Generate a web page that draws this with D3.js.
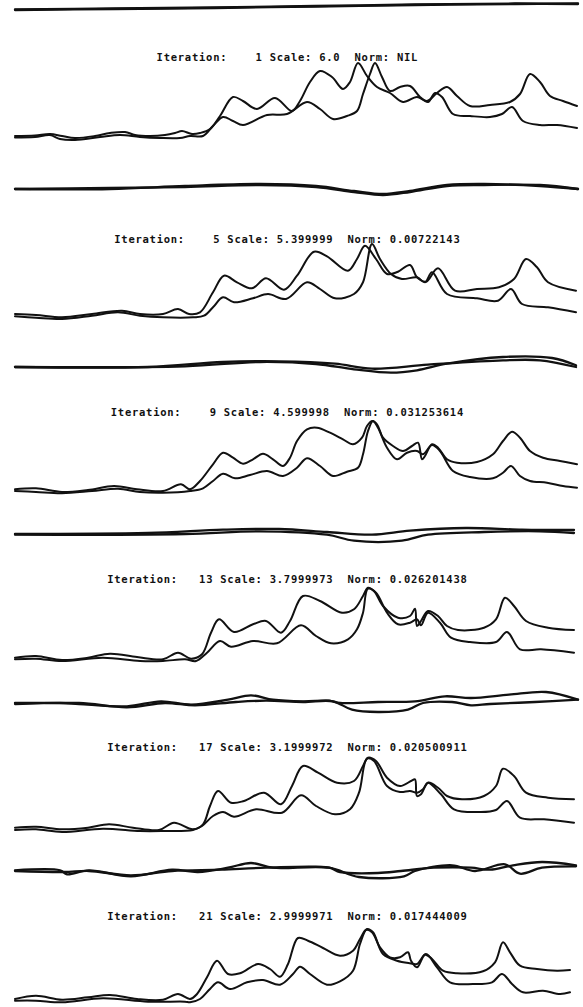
<!DOCTYPE html>
<html>
<head>
<meta charset="utf-8">
<script src="https://cdn.jsdelivr.net/npm/d3@7"></script>
<style>
  html, body { margin: 0; padding: 0; background: #fff; }
  svg { display: block; }
  .title { font-family: "DejaVu Sans Mono", monospace; font-weight: bold; font-size: 10.5px; white-space: pre; fill: #111; }
  .curve { fill: none; stroke: #111; stroke-width: 2; stroke-linejoin: round; stroke-linecap: round; }
  .resid { fill: none; stroke: #111; stroke-width: 2.3; stroke-linejoin: round; stroke-linecap: round; }
</style>
</head>
<body>
<div id="chart"></div>
<script>
// ---- data: [channel, intensity] ----
const iterations = [1, 5, 9, 13, 17, 21];
const scales = ["6.0", "5.399999", "4.599998", "3.7999973", "3.1999972", "2.9999971"];
const norms = ["NIL", "0.00722143", "0.031253614", "0.026201438", "0.020500911", "0.017444009"];

const curveA1 = [[0,3],[20,3.5],[35,5],[47,3],[60,1],[80,3],[95,6],[110,7],[120,4],[135,3],[150,4],[160,6],[167,8],[177,5],[185,6],[195,10],[205,23],[218,42],[228,38],[242,30],[260,41],[277,28],[285,38],[295,57],[305,68],[317,62],[328,50],[335,57],[343,76],[352,63],[362,52],[375,46],[388,37],[402,42],[412,38],[422,46],[432,52],[442,43],[455,33],[475,34],[495,37],[505,45],[515,65],[525,57],[535,43],[548,38],[562,33]];
const curveB1 = [[0,1.5],[20,2],[35,4],[45,0],[60,-1],[85,2],[105,4],[125,2],[145,1],[165,1],[175,3],[188,3],[198,13],[208,22],[218,18],[228,14],[252,24],[272,25],[292,37],[305,30],[318,20],[332,23],[342,28],[348,45],[355,65],[360,76],[367,62],[375,48],[385,52],[395,53],[405,42],[413,37],[420,46],[427,42],[438,25],[455,23],[475,22],[487,25],[497,32],[508,18],[525,14],[542,14],[562,11]];

const curveA2 = [[0,5],[21,4],[47,1.7],[77,5],[107,8.3],[125,5],[148,5],[163,10],[174,5],[185,6.7],[198,26.7],[209,43.3],[222,36.7],[237,30.7],[251,40.7],[269,29.3],[282,43.3],[299,67.3],[312,62.7],[333,48.3],[342,60],[350,73.3],[361,60],[372,45],[383,47.3],[395,54],[402,41.7],[411,37.3],[423,50.7],[440,28.3],[462,30],[484,31.7],[499,40],[511,60],[522,51.7],[533,36.7],[561,28.3]];
const curveB2 = [[0,2.7],[21,1.3],[47,0],[77,3.3],[103,6.7],[125,3.3],[148,1.7],[178,1.7],[189,3.3],[198,11.7],[208,21.7],[219,16.7],[238,20.7],[253,25],[271,20],[292,36.7],[305,30],[320,20.7],[339,25],[348,36.7],[357,75],[365,60],[376,45],[387,40],[402,41.7],[410,36.7],[417,46.7],[432,25],[462,20.7],[483,18.3],[496,30],[507,15],[533,11.7],[561,6.7]];

const curveA3 = [[0,4.7],[21,5.7],[47,2],[73,4],[99,8],[122,4.7],[148,3],[166,9.7],[175,4.7],[185,13],[198,29.7],[208,41.3],[218,36.3],[228,30.3],[238,34.7],[248,40.3],[258,34.7],[268,28],[275,36.3],[282,53],[292,64.7],[302,66.3],[315,61.3],[328,54.7],[338,49.7],[347,56.3],[352,68],[357,73],[362,69.7],[368,56.3],[378,48],[388,43],[397,48],[403,51.3],[407,34.7],[410,38],[417,49.7],[423,46.3],[432,34.7],[442,31.3],[462,32],[478,39.7],[488,53],[497,62.3],[505,56.3],[515,43],[528,36.3],[545,33],[562,29.7]];
const curveB3 = [[0,3],[21,2],[47,0.7],[77,3],[103,5.3],[125,2],[148,1.3],[175,3],[188,5.7],[198,13],[208,20.3],[220,15.7],[235,19],[252,23],[268,18],[282,26.3],[292,35.7],[305,28],[318,18],[332,22.3],[343,26.3],[348,39.7],[353,63],[358,73],[363,66.3],[372,46.3],[382,34.7],[392,41.3],[402,43],[408,39.7],[417,49],[425,43],[438,23],[455,17],[478,15.7],[488,21.3],[496,28],[505,18],[515,13],[532,11.3],[548,8],[562,6.3]];

const curveA4 = [[0,2.3],[21,4],[47,0],[73,2.3],[95,6.3],[122,3],[148,0.7],[163,7.3],[176,1.3],[187,5.7],[196,27.3],[204,40.7],[219,28],[238,35.7],[251,39],[266,27.3],[275,39],[288,64],[305,59],[327,47.3],[339,50.7],[348,64],[353,72.3],[359,69],[368,54],[383,42.3],[395,44],[400,51.3],[402,34],[406,39],[413,49],[423,44],[432,34],[443,30],[469,32.3],[481,40.7],[490,62.3],[499,54],[511,39],[533,32.3],[559,30]];
const curveB4 = [[0,0.7],[21,1.3],[47,-1],[88,2.3],[125,-1],[148,-1],[170,0.7],[181,-1],[192,7.3],[205,19],[216,13.3],[238,19],[262,16.7],[286,34.7],[301,24],[316,16.7],[333,20.7],[342,30.7],[348,47.3],[353,71.3],[361,67.3],[372,47.3],[383,35.7],[395,37.3],[402,40.7],[406,34.7],[413,47.3],[425,37.3],[436,22.3],[455,18],[481,18],[492,28],[505,10.7],[526,10.7],[559,7.3]];

const curveA5 = [[0,2.3],[21,3.3],[47,0.7],[73,2.3],[94,5.7],[118,2.3],[144,0],[159,7.3],[178,0.7],[188,5.7],[195,24],[203,39],[216,27.3],[229,29],[249,37.3],[266,25.7],[277,44],[288,64],[303,57.3],[322,47.3],[339,49],[348,64],[353,72.3],[361,69],[372,52.3],[385,44],[396,49],[400,50.7],[402,34],[406,35.7],[413,47.3],[423,42.3],[432,34],[447,30.7],[469,34],[481,44],[488,61.3],[499,54],[511,37.3],[533,32.3],[559,30.7]];
const curveB5 = [[0,0],[21,0.7],[47,-2],[88,1.3],[125,-1],[148,-1],[178,0],[187,4],[198,14],[208,18],[219,13.3],[241,20.7],[267,17.3],[286,34.7],[301,24],[320,15.7],[335,20.7],[344,37.3],[352,71.3],[359,69],[372,44],[385,38],[395,39],[402,37.3],[408,40.7],[413,47.3],[426,35.7],[439,20.7],[465,18],[481,20],[492,29],[505,12.3],[529,10.7],[559,7.3]];

const curveA6 = [[0,2],[21,5.3],[47,1.3],[73,3.7],[95,6],[122,2],[148,1.3],[163,7],[175,2],[182,7],[192,23.7],[202,40.3],[213,27],[225,27.7],[243,37],[255,32],[265,24.3],[273,37],[283,63],[293,60.3],[308,53],[325,45.3],[338,50.3],[345,62],[351,71],[357,68.7],[365,53.7],[375,43.7],[385,43.7],[393,48.7],[396,40.3],[402,33.7],[410,46.3],[417,42],[428,30.3],[442,27.7],[468,29.7],[480,38.7],[488,58.7],[495,48.7],[505,35.3],[522,32],[542,30.3],[555,31]];
const curveB6 = [[0,0.3],[21,0.3],[47,-1.3],[88,2.7],[133,-0.7],[170,-0.7],[175,-1.3],[185,2],[195,12],[203,18.7],[215,12],[232,18.7],[248,21],[265,16.3],[278,27],[285,34.3],[295,27],[312,16.3],[325,19.7],[338,30.3],[345,57],[352,72],[358,68.7],[368,47],[382,40.3],[395,37.7],[402,37],[411,47],[422,33.7],[435,18.7],[458,17],[477,18.7],[487,27],[497,17],[508,8.7],[528,10.3],[545,7],[555,8.7]];

// residual traces under each panel (first one belongs to the previous page)
const resid0a = [[0,-3],[100,-2],[200,-1],[300,0.5],[400,2],[500,3],[563,3.5]];
const resid0b = [[0,-2.5],[100,-1.5],[200,-0.5],[300,1],[400,2.5],[500,3.5],[563,3]];
const resid1a = [[0,0],[95,0],[170,3],[245,5],[301,3],[339,-2],[368,-5],[395,-2],[432,4],[469,5],[525,3],[563,0]];
const resid1b = [[0,0],[95,1],[170,2],[245,4],[301,2],[339,-3],[368,-6],[395,-3],[432,3],[469,4],[525,4],[563,0]];
const resid2a = [[0,0],[133,0],[208,5],[264,5.7],[320,3.3],[357,-1.7],[413,2.3],[488,6.7],[525,6.7],[561,0]];
const resid2b = [[0,0],[170,0.7],[245,5],[301,3],[339,-2.3],[376,-5.7],[402,-3.3],[432,3.3],[488,10],[537,9],[561,1.7]];
const resid3a = [[0,0],[133,1],[208,4.3],[264,5],[312,2],[357,-0.7],[395,3.3],[451,6],[507,4.3],[559,4]];
const resid3b = [[0,-0.7],[170,0],[245,2.7],[312,-0.7],[339,-6.7],[387,-6.7],[413,-0.7],[469,2],[525,2.7],[559,1]];
const resid4a = [[0,0],[45,0],[64,-1],[112,-3.3],[146,1.7],[176,-1.7],[213,3.3],[236,7.7],[258,3.3],[288,1.7],[314,2.3],[325,0],[363,1],[400,1.7],[430,6.7],[456,5],[494,8.3],[531,11],[563,3.3]];
const resid4b = [[0,-1],[64,0],[112,-4.3],[150,0],[180,-2.3],[221,1],[251,2.3],[288,1],[318,1.7],[337,-6.7],[363,-9],[393,-6.7],[408,0],[437,1],[456,-2.3],[475,-1],[520,1],[563,3.3]];
const resid5a = [[0,-0.3],[45,-0.3],[52,-4.3],[74,-0.3],[116,-6.3],[157,0.3],[183,-2],[213,2.3],[236,7],[258,2.3],[314,2.3],[344,-7],[389,-6.3],[400,-1],[437,4.7],[460,-1],[490,5.7],[505,-3.7],[527,2.3],[561,3.7]];
const resid5b = [[0,-1],[49,-2],[74,-1],[116,-5.3],[157,-1],[206,0.3],[251,2.3],[314,2.3],[325,-2],[363,-3],[386,-1],[419,2.3],[456,2.3],[475,0.3],[498,4.7],[527,8],[561,4.7]];

const curvesA = [curveA1, curveA2, curveA3, curveA4, curveA5, curveA6];
const curvesB = [curveB1, curveB2, curveB3, curveB4, curveB5, curveB6];
const residPairs = [[resid0a, resid0b], [resid1a, resid1b], [resid2a, resid2b], [resid3a, resid3b], [resid4a, resid4b], [resid5a, resid5b]];

// ---- layout (pixels) ----
const width = 583, height = 1007;
const titleY = [61, 243, 416, 583, 751, 920];
const baseY = [139, 319, 494, 660, 830, 1001];
const residY = [7, 189, 367, 534, 703, 870];

const svg = d3.select('#chart').append('svg')
    .attr('width', width)
    .attr('height', height);

const x = d3.scaleLinear().domain([0, 563]).range([15, 578]);

// residual strips
residPairs.forEach((pair, i) => {
  let r = d3.scaleLinear().domain([-10, 10]).range([residY[i] + 10, residY[i] - 10]);
  let line = d3.line().x(d => x(d[0])).y(d => r(d[1])).curve(d3.curveCatmullRom.alpha(0.5));
  svg.append('g').selectAll('path')
      .data(pair)
      .join('path')
      .attr('class', 'resid')
      .attr('d', line);
});

// spectra panels
iterations.forEach((it, i) => {
  let y = d3.scaleLinear().domain([0, 100]).range([baseY[i], baseY[i] - 100]);
  let line = d3.line().x(d => x(d[0])).y(d => y(d[1])).curve(d3.curveCatmullRom.alpha(0.5));
  let g = svg.append('g').attr('class', 'panel');

  let label = 'Iteration:' + String(it).padStart(5, ' ') + ' Scale: ' + scales[i] + '  Norm: ' + norms[i];
  g.append('text')
      .attr('class', 'title')
      .attr('x', 287)
      .attr('y', titleY[i])
      .attr('text-anchor', 'middle')
      .attr('textLength', label.length * 7.05)
      .attr('lengthAdjust', 'spacing')
      .text(label);

  g.selectAll('path.curve')
      .data([curvesA[i], curvesB[i]])
      .join('path')
      .attr('class', 'curve')
      .attr('d', line);
});
</script>
</body>
</html>
